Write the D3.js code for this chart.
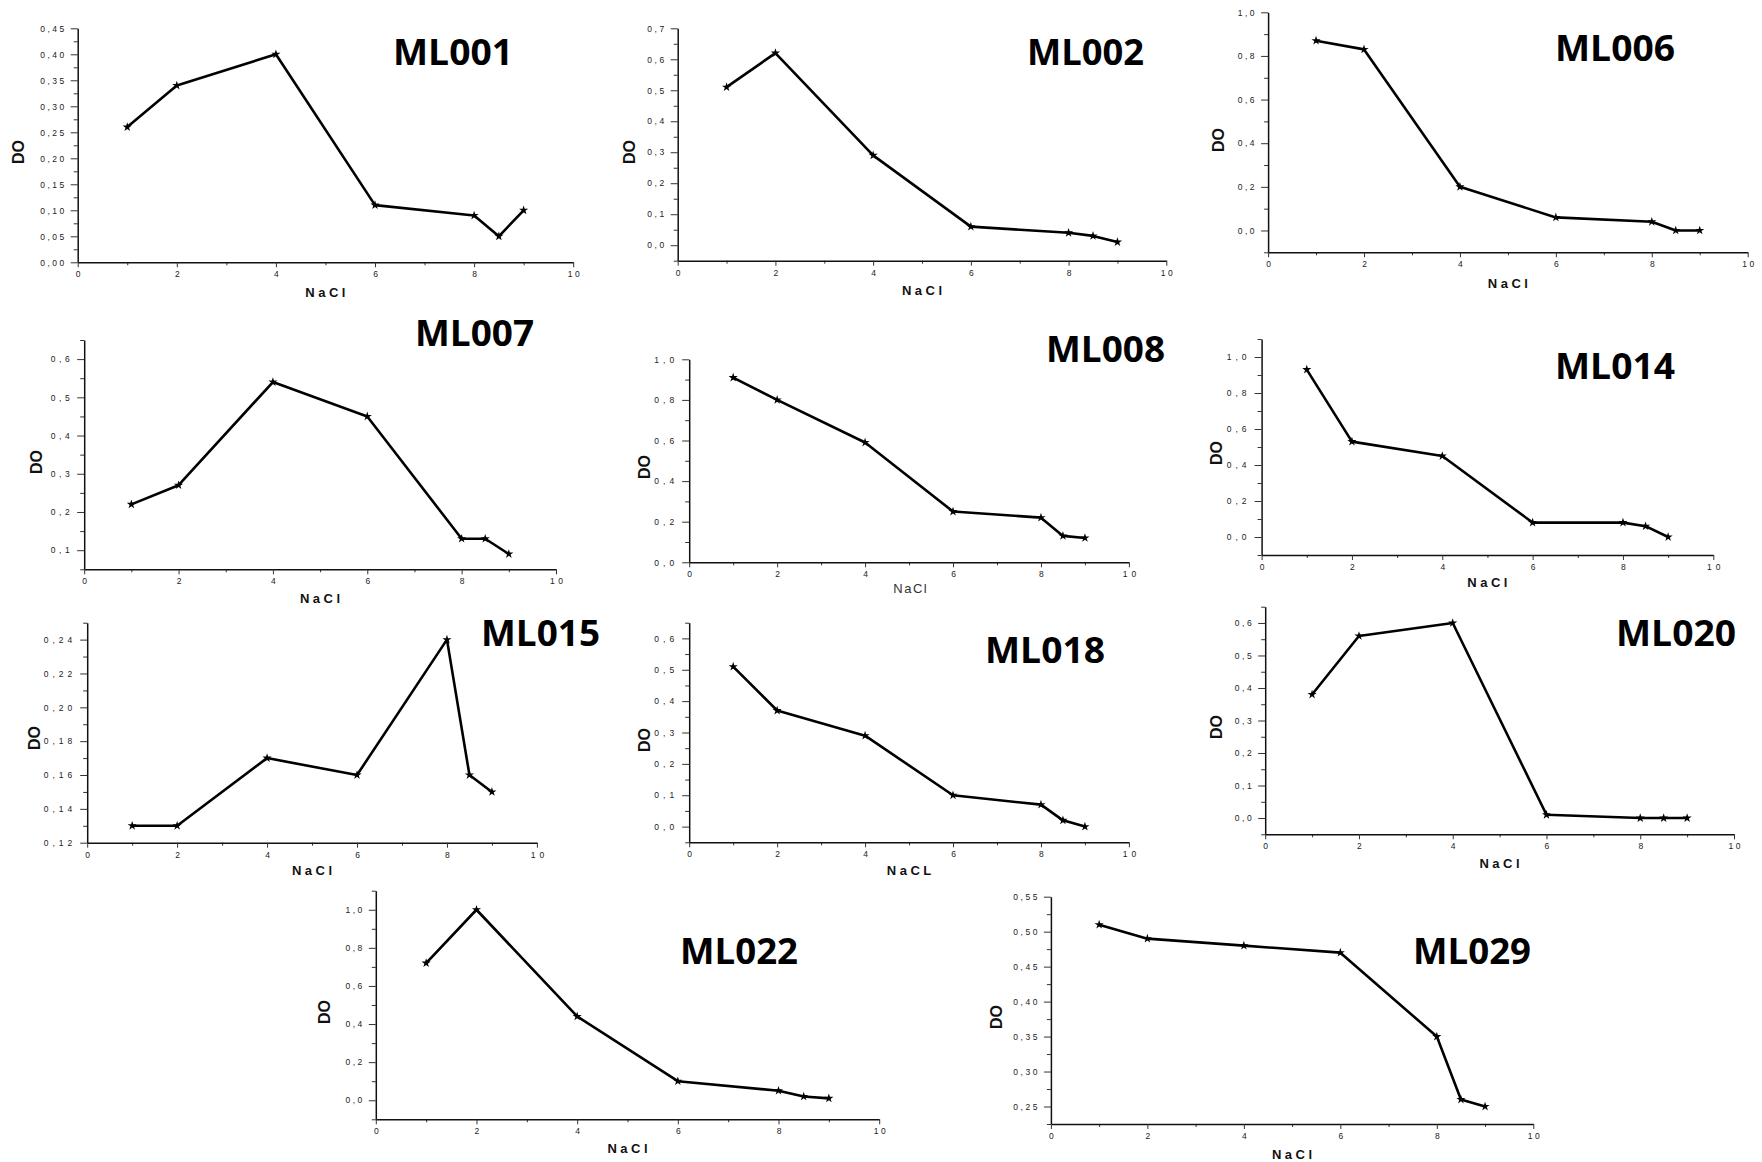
<!DOCTYPE html>
<html>
<head>
<meta charset="utf-8">
<script src="https://cdn.jsdelivr.net/npm/d3@7"></script>
<style>
  body { margin: 0; background: #fff; }
  svg { display: block; }
</style>
</head>
<body>
<svg id="chart" width="1762" height="1162"></svg>
<script>

// NaCl concentrations (x) and DO readings per strain
var nacl = [1, 2, 4, 6, 8, 8.5, 9]
var strains = ["ML001", "ML002", "ML006", "ML007", "ML008", "ML014", "ML015", "ML018", "ML020", "ML022", "ML029"]

var ml001 = [0.26, 0.34, 0.40, 0.11, 0.09, 0.05, 0.10]
var ml002 = [0.51, 0.62, 0.29, 0.06, 0.04, 0.03, 0.01]
var ml006 = [0.87, 0.83, 0.20, 0.06, 0.04, 0.00, 0.00]
var ml007 = [0.22, 0.27, 0.54, 0.45, 0.13, 0.13, 0.09]
var ml008 = [0.91, 0.80, 0.59, 0.25, 0.22, 0.13, 0.12]
var ml014 = [0.93, 0.53, 0.45, 0.08, 0.08, 0.06, 0.00]
var ml015 = [0.13, 0.13, 0.17, 0.16, 0.24, 0.16, 0.15]
var ml018 = [0.51, 0.37, 0.29, 0.10, 0.07, 0.02, 0.00]
var ml020 = [0.38, 0.56, 0.60, 0.01, 0.00, 0.00, 0.00]
var ml022 = [0.72, 1.00, 0.44, 0.10, 0.05, 0.02, 0.01]
var ml029 = [0.51, 0.49, 0.48, 0.47, 0.35, 0.26, 0.25]

var series = [ml001, ml002, ml006, ml007, ml008, ml014, ml015, ml018, ml020, ml022, ml029]

var xTicks = [0, 2, 4, 6, 8, 10]
var xMinorTicks = [1, 3, 5, 7, 9]
var xLabels = ["NaCl", "NaCl", "NaCl", "NaCl", "NaCl", "NaCl", "NaCl", "NaCL", "NaCl", "NaCl", "NaCl"]

// y axis extent, major step and decimals for each panel
var yDomains = [[0, 0.45], [-0.05, 0.7], [-0.1, 1.0], [0.05, 0.65], [0, 1], [-0.1, 1.1],
                [0.12, 0.25], [-0.05, 0.65], [-0.05, 0.65], [-0.1, 1.1], [0.225, 0.55]]
var yFirstTick = [0, 0, 0, 0.1, 0, 0, 0.12, 0, 0, 0, 0.25]
var yLastTick = [0.45, 0.7, 1.0, 0.6, 1.0, 1.0, 0.24, 0.6, 0.6, 1.0, 0.55]
var ySteps = [0.05, 0.1, 0.2, 0.1, 0.2, 0.2, 0.02, 0.1, 0.1, 0.2, 0.05]
var yDecimals = [2, 1, 1, 1, 1, 1, 2, 1, 1, 1, 2]

// where each small plot sits on the page
var layout = [
  {x0: 77.7,   x1: 573.2,  yTop: 28.3,  yBot: 262.3,  tx: 393,  tw: 120, ty: 65,  ly: 297,  dx: 18,   dy: 152,  ls: 2.5},
  {x0: 677.7,  x1: 1166.3, yTop: 28.3,  yBot: 260.7,  tx: 1027, tw: 117, ty: 65,  ly: 295,  dx: 629,  dy: 152,  ls: 2.5},
  {x0: 1268.1, x1: 1747.7, yTop: 12.3,  yBot: 252.3,  tx: 1555, tw: 120, ty: 61,  ly: 288,  dx: 1218, dy: 140,  ls: 2.5},
  {x0: 84.2,   x1: 556,    yTop: 340,   yBot: 569.3,  tx: 415,  tw: 119, ty: 346, ly: 603,  dx: 36,   dy: 462,  ls: 3.5},
  {x0: 689.2,  x1: 1128.9, yTop: 359.3, yBot: 562.3,  tx: 1046, tw: 119, ty: 362, ly: 593,  dx: 644,  dy: 467,  ls: 4},
  {x0: 1261.6, x1: 1713.3, yTop: 339,   yBot: 555,    tx: 1555, tw: 120, ty: 379, ly: 587,  dx: 1216, dy: 453,  ls: 4},
  {x0: 87.2,   x1: 536.9,  yTop: 622.7, yBot: 842.7,  tx: 481,  tw: 119, ty: 646, ly: 875,  dx: 34,   dy: 738,  ls: 4},
  {x0: 689.2,  x1: 1128.9, yTop: 622.7, yBot: 842.3,  tx: 985,  tw: 120, ty: 663, ly: 875,  dx: 644,  dy: 740,  ls: 4},
  {x0: 1265.2, x1: 1734,   yTop: 606.7, yBot: 834.3,  tx: 1616, tw: 120, ty: 646, ly: 868,  dx: 1216, dy: 727,  ls: 2.5},
  {x0: 375.8,  x1: 879.2,  yTop: 890.7, yBot: 1119.3, tx: 680,  tw: 118, ty: 964, ly: 1153, dx: 324,  dy: 1012, ls: 2.5},
  {x0: 1050.9, x1: 1533.3, yTop: 896.7, yBot: 1124,   tx: 1413, tw: 118, ty: 964, ly: 1159, dx: 996,  dy: 1017, ls: 2.5}
]

var svg = d3.select("#chart")
svg.append("rect").attr("width", 1762).attr("height", 1162).attr("fill", "#fff")

strains.forEach(function(name, i) {
  var L = layout[i]
  var values = series[i]

  var x = d3.scaleLinear().domain([0, 10]).range([L.x0, L.x1])
  var y = d3.scaleLinear().domain(yDomains[i]).range([L.yBot, L.yTop])

  var step = ySteps[i]
  var nMajor = Math.round((yLastTick[i] - yFirstTick[i]) / step)
  var majors = d3.range(nMajor + 1).map(function(k) { return +(yFirstTick[i] + k * step).toFixed(4) })
  var minors = []
  var lo = yDomains[i][0], hi = yDomains[i][1]
  for (var v = yFirstTick[i] - step / 2; v >= lo - 1e-9; v -= step) minors.push(v)
  for (var v2 = yFirstTick[i] + step / 2; v2 <= hi + 1e-9; v2 += step) minors.push(v2)

  var fmt = function(d) { return d.toFixed(yDecimals[i]).replace(".", ",") }

  var g = svg.append("g").attr("class", "panel")

  // minor ticks first, no labels
  g.append("g")
      .attr("transform", "translate(" + L.x0 + ",0)")
      .call(d3.axisLeft(y).tickValues(minors).tickSize(4).tickSizeOuter(0).tickFormat(""))
      .call(function(a) { a.select(".domain").remove() })
  g.append("g")
      .attr("transform", "translate(0," + L.yBot + ")")
      .call(d3.axisBottom(x).tickValues(xMinorTicks).tickSize(3).tickSizeOuter(0).tickFormat(""))
      .call(function(a) { a.select(".domain").remove() })

  var yAxis = g.append("g")
      .attr("transform", "translate(" + L.x0 + ",0)")
      .call(d3.axisLeft(y).tickValues(majors).tickSize(7).tickPadding(4).tickSizeOuter(0).tickFormat(fmt))
  var xAxis = g.append("g")
      .attr("transform", "translate(0," + L.yBot + ")")
      .call(d3.axisBottom(x).tickValues(xTicks).tickSize(5).tickPadding(4).tickSizeOuter(0))

  g.selectAll(".tick line").attr("stroke", "#333").attr("stroke-width", 1)
  ;[yAxis, xAxis].forEach(function(a) {
    a.select(".domain").attr("stroke", "#111").attr("stroke-width", 1.5)
    a.selectAll("text")
        .attr("fill", "#222")
        .style("font-family", "'Liberation Sans', Arial, sans-serif")
        .style("font-size", "8.5px")
        .style("letter-spacing", L.ls + "px")
  })
  xAxis.selectAll("text").attr("dx", L.ls / 2)

  // data line with star markers
  var pts = nacl.map(function(n, k) { return [n, values[k]] })
  g.append("path")
      .datum(pts)
      .attr("fill", "none")
      .attr("stroke", "#000")
      .attr("stroke-width", 2.6)
      .attr("stroke-linejoin", "round")
      .attr("d", d3.line().x(function(d) { return x(d[0]) }).y(function(d) { return y(d[1]) }))
  g.selectAll(".star")
      .data(pts)
    .enter().append("path")
      .attr("class", "star")
      .attr("transform", function(d) { return "translate(" + x(d[0]) + "," + y(d[1]) + ")" })
      .attr("d", d3.symbol().type(d3.symbolStar).size(26))
      .attr("fill", "#000")

  // axis titles
  var plain = (i === 4)
  g.append("text")
      .attr("x", (L.x0 + L.x1) / 2 + 1.7)
      .attr("y", L.ly)
      .attr("text-anchor", "middle")
      .style("font-family", "'Liberation Sans', Arial, sans-serif")
      .style("font-size", "13px")
      .style("font-weight", plain ? "normal" : "bold")
      .style("letter-spacing", plain ? "1.5px" : "3.5px")
      .attr("fill", plain ? "#333" : "#111")
      .text(xLabels[i])
  g.append("text")
      .attr("transform", "translate(" + L.dx + "," + L.dy + ") rotate(-90)")
      .attr("text-anchor", "middle")
      .attr("dominant-baseline", "central")
      .style("font-family", "'Liberation Sans', Arial, sans-serif")
      .style("font-size", "16px")
      .style("font-weight", "bold")
      .attr("fill", "#111")
      .text("DO")

  // strain name
  g.append("text")
      .attr("x", L.tx)
      .attr("y", L.ty)
      .attr("textLength", L.tw)
      .attr("lengthAdjust", "spacingAndGlyphs")
      .style("font-family", "'Open Sans', 'DejaVu Sans', sans-serif")
      .style("font-size", "35px")
      .style("font-weight", "bold")
      .attr("fill", "#000")
      .text(name)
})

</script>
</body>
</html>
